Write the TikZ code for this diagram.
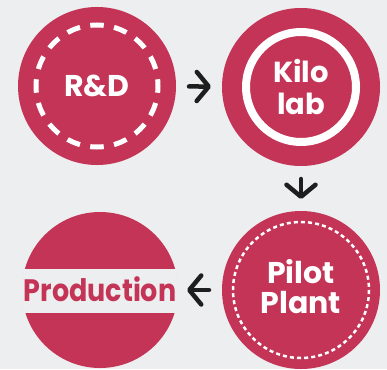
\documentclass[tikz,border=0pt]{standalone}
\usepackage{fontspec}
\setmainfont{Poppins}
\usetikzlibrary{arrows.meta}
\definecolor{bg}{HTML}{EDEEEF}
\definecolor{rose}{HTML}{C43457}
\definecolor{ink}{HTML}{1E1E1E}
\tikzset{
  disc/.style={circle, fill=rose, minimum size=158pt, inner sep=0pt, outer sep=0pt},
  label/.style={text=white, font=\bfseries\fontsize{30}{31}\selectfont, align=center, inner sep=0pt},
  arr/.style={draw=ink, line width=4.5pt, line cap=round,
    -{Straight Barb[length=12pt, width=29pt, line width=4.5pt, round]}},
}
\begin{document}
\begin{tikzpicture}[x=1pt,y=-1pt]
\fill[bg] (0,0) rectangle (387,369);
\useasboundingbox (0,0) rectangle (387,369);
% R&D
\node[disc] (rd) at (97,86) {};
\draw[white, line width=5pt, dash pattern=on 13.5pt off 10.45pt, dash phase=6.75pt]
  (rd.center) ++(90:61) arc[start angle=90, end angle=-270, radius=61];
\node[label] (rdt) at (rd.center) {R\&D};
% Kilo lab
\node[disc] (kilo) at (301,87) {};
\draw[white, line width=8pt] (kilo.center) circle[radius=55];
\node[label, font=\bfseries\fontsize{29}{32}\selectfont] (kilot) at (kilo.center) {Kilo\\lab};
% Pilot plant
\node[disc] (pilot) at (301,290) {};
\draw[white, line width=2.5pt, dash pattern=on 4pt off 3.12pt]
  (pilot.center) circle[radius=68];
\node[label, font=\bfseries\fontsize{30}{30}\selectfont] (pilott) at ([yshift=3pt]pilot.center) {Pilot\\Plant};
% Production
\node[disc, minimum size=156pt] (prod) at (100,290) {};
\begin{scope}
  \clip (prod.center) circle[radius=78.5];
  \fill[bg] (0,269) rectangle (200,313);
\end{scope}
\node[label, text=rose, font=\bfseries\fontsize{31}{31}\selectfont] (prodt) at ([yshift=1pt]prod.center) {\scalebox{0.87}[1]{Production}};
% arrows
\draw[arr, shorten <=13pt, shorten >=11pt] (rd) -- (kilo);
\draw[arr, shorten <=13pt, shorten >=12pt] (kilo) -- (pilot);
\draw[arr, shorten <=13pt, shorten >=9pt] (pilot) -- (prod);
\end{tikzpicture}
\end{document}
